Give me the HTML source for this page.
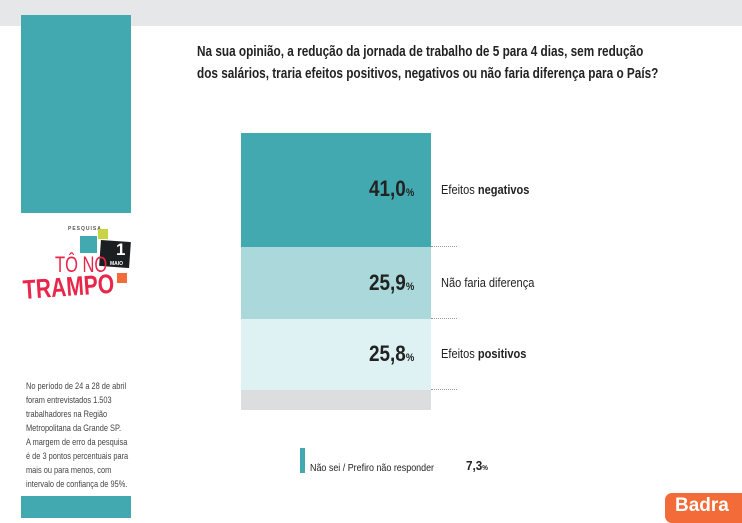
<!DOCTYPE html>
<html><head><meta charset="utf-8"><style>
body{margin:0;width:742px;height:518px;position:relative;background:#fff;font-family:"Liberation Sans",sans-serif;overflow:hidden}
.a{position:absolute}
.c{display:inline-block;transform-origin:0 0;white-space:nowrap}
.pct{font-weight:bold;font-size:22px;color:#222}
.pct small{font-size:11px}
.lab{font-size:13px;color:#222}
.dot{position:absolute;left:431px;width:26px;border-top:1px dotted #999}
</style></head><body>
<div class="a" style="left:0;top:0;width:742px;height:26px;background:#e6e7e9"></div>
<div class="a" style="left:21px;top:15px;width:110px;height:198px;background:#43a9b0"></div>
<div class="a" style="left:21px;top:496px;width:110px;height:22px;background:#43a9b0"></div>

<div class="a" style="left:197px;top:41px;font-weight:bold;font-size:15px;color:#222;line-height:22px">
<span class="c" style="transform:scaleX(0.785)">Na sua opinião, a redução da jornada de trabalho de 5 para 4 dias, sem redução</span><br>
<span class="c" style="transform:scaleX(0.785)">dos salários, traria efeitos positivos, negativos ou não faria diferença para o País?</span></div>

<div class="a" style="left:241px;top:133px;width:190px;height:114px;background:#43a9b0"></div>
<div class="a" style="left:241px;top:247px;width:190px;height:72px;background:#aad8db"></div>
<div class="a" style="left:241px;top:319px;width:190px;height:71px;background:#dff2f3"></div>
<div class="a" style="left:241px;top:390px;width:190px;height:20px;background:#dcdddf"></div>
<div class="dot" style="top:246px"></div><div class="dot" style="top:318px"></div><div class="dot" style="top:389px"></div>

<div class="a pct" style="left:369px;top:176px"><span class="c" style="transform:scaleX(0.86)">41,0<small>%</small></span></div>
<div class="a pct" style="left:369px;top:270px"><span class="c" style="transform:scaleX(0.86)">25,9<small>%</small></span></div>
<div class="a pct" style="left:369px;top:341px"><span class="c" style="transform:scaleX(0.86)">25,8<small>%</small></span></div>
<div class="a lab" style="left:441px;top:182px"><span class="c" style="transform:scaleX(0.85)">Efeitos <b>negativos</b></span></div>
<div class="a lab" style="left:441px;top:275px"><span class="c" style="transform:scaleX(0.85)">Não faria diferença</span></div>
<div class="a lab" style="left:441px;top:346px"><span class="c" style="transform:scaleX(0.85)">Efeitos <b>positivos</b></span></div>

<div class="a" style="left:300px;top:448px;width:5px;height:25px;background:#43a9b0"></div>
<div class="a" style="left:310px;top:462px;font-size:10.5px;color:#222"><span class="c" style="transform:scaleX(0.85)">Não sei / Prefiro não responder</span></div>
<div class="a" style="left:466px;top:458px;font-size:13px;font-weight:bold;color:#222"><span class="c" style="transform:scaleX(0.9)">7,3<small style="font-size:7px">%</small></span></div>

<div class="a" style="left:665px;top:493px;width:85px;height:30px;background:#f26b38;border-radius:7px"></div>
<div class="a" style="left:675px;top:495px;font-size:19px;font-weight:bold;color:#fff">Badra</div>

<div class="a" style="left:68px;top:226px;font-size:5px;font-weight:bold;color:#555;letter-spacing:1px">PESQUISA</div>
<div class="a" style="left:98px;top:229px;width:10px;height:10px;background:#c7d545"></div>
<div class="a" style="left:80px;top:236px;width:17px;height:17px;background:#43a9b0"></div>
<div class="a" style="left:100px;top:241px;width:30px;height:26px;background:#1c1f21;transform:rotate(4deg)"></div>
<div class="a" style="left:116px;top:240px;font-size:17px;font-weight:bold;color:#fff">1</div>
<div class="a" style="left:110px;top:261px;font-size:5px;font-weight:bold;color:#fff">MAIO</div>
<div class="a" style="left:117px;top:273px;width:10px;height:10px;background:#f26b38"></div>
<div class="a" style="left:55px;top:252px;font-size:22px;color:#e8264a"><span class="c" style="transform:scaleX(0.75)">TÔ NO</span></div>
<div class="a" style="left:22px;top:275px;font-size:27px;font-weight:bold;color:#e8264a;transform:rotate(-4deg);transform-origin:0 0"><span class="c" style="transform:scaleX(0.78)">TRAMPO</span></div>

<div class="a" style="left:26px;top:380px;font-size:9.5px;line-height:14px;color:#444">
<span class="c" style="transform:scaleX(0.78)">No período de 24 a 28 de abril</span><br>
<span class="c" style="transform:scaleX(0.78)">foram entrevistados 1.503</span><br>
<span class="c" style="transform:scaleX(0.78)">trabalhadores na Região</span><br>
<span class="c" style="transform:scaleX(0.78)">Metropolitana da Grande SP.</span><br>
<span class="c" style="transform:scaleX(0.78)">A margem de erro da pesquisa</span><br>
<span class="c" style="transform:scaleX(0.78)">é de 3 pontos percentuais para</span><br>
<span class="c" style="transform:scaleX(0.78)">mais ou para menos, com</span><br>
<span class="c" style="transform:scaleX(0.78)">intervalo de confiança de 95%.</span></div>
</body></html>
